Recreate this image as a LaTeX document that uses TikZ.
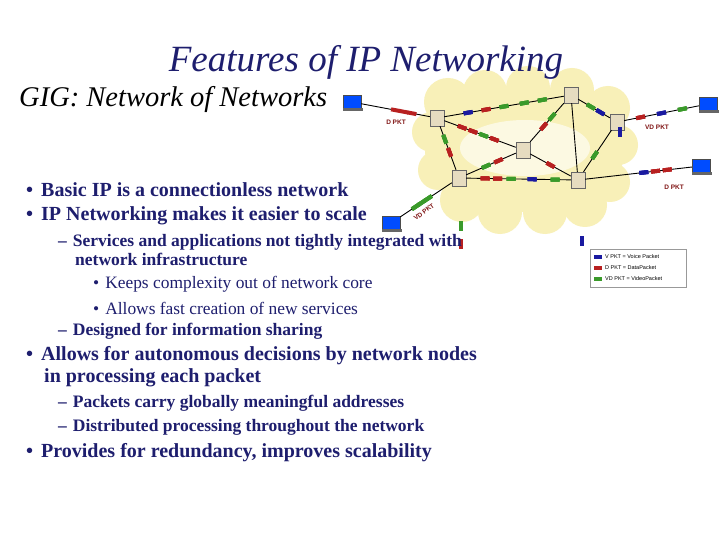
\documentclass[tikz,border=0pt]{standalone}
\usepackage{fontspec}
\setmainfont{Liberation Serif}
\newfontfamily\lsans{Liberation Sans}
\definecolor{navy}{HTML}{1E1E6E}
\definecolor{cloudc}{HTML}{F8F0B8}
\definecolor{pR}{HTML}{B82020}
\definecolor{pB}{HTML}{1A1AA0}
\definecolor{pG}{HTML}{3A9A2A}
\definecolor{rtr}{HTML}{E6DCC0}
\begin{document}
\begin{tikzpicture}[x=1pt,y=-1pt,
  txt/.style={anchor=west,inner sep=0,text=navy,font=\bfseries\fontsize{20}{22}\selectfont},
  sub/.style={anchor=west,inner sep=0,text=navy,font=\bfseries\fontsize{17.5}{19}\selectfont,align=left},
  subsub/.style={anchor=west,inner sep=0,text=navy,font=\fontsize{17.4}{19}\selectfont},
  router/.style={draw=black!60,fill=rtr,minimum width=14,minimum height=16,inner sep=0},
  pc/.style={draw=black!70,fill=blue!70!cyan,minimum width=18,minimum height=14,inner sep=0},
  link/.style={black,line width=0.9},
  lbl/.style={font=\lsans\bfseries\fontsize{6.5}{7}\selectfont,text=pR!70!black,inner sep=0}]
\useasboundingbox (0,0) rectangle (720,540);
\fill[white] (0,0) rectangle (720,540);
% cloud
\fill[cloudc] (525,150) ellipse (100 and 62);
\foreach \a/\b/\r in {448/102/24,485/92/22,528/88/22,572/90/22,608/108/22,618/145/20,610/182/20,585/205/22,545/212/22,500/212/22,462/200/22,438/170/20,432/132/20}
  \fill[cloudc] (\a,\b) circle (\r);
\fill[white,opacity=0.6] (525,148) ellipse (65 and 28);
% nodes
\node[router] (r1) at (437,118) {};
\node[router] (r2) at (571,95) {};
\node[router] (r3) at (617,122) {};
\node[router] (r4) at (523,150) {};
\node[router] (r5) at (459,178) {};
\node[router] (r6) at (578,180) {};
\node[pc] (c1) at (352,102) {};
\node[pc] (c2) at (708,104) {};
\node[pc] (c3) at (701,166) {};
\node[pc] (c4) at (391,223) {};
\foreach \c in {c1,c2,c3,c4} \fill[black!60] ([yshift=1]\c.south west) rectangle ++(20,3);
% links
\foreach \u/\v in {r1/r2,r1/r4,r1/r5,r2/r4,r2/r6,r2/r3,r3/r6,r4/r5,r4/r6,r5/r6,c1/r1,c2/r3,c3/r6,c4/r5}
  \draw[link] (\u) -- (\v);
% packets
\newcommand\pkt[4]{\path (#1) -- node[pos=#3,sloped,fill=#4,minimum width=9,minimum height=4,inner sep=0]{} (#2);}
\foreach \f in {0.5,0.62,0.74} \pkt{c1}{r1}{\f}{pR}
\pkt{r1}{r2}{0.2}{pB}\pkt{r1}{r2}{0.35}{pR}\pkt{r1}{r2}{0.5}{pG}\pkt{r1}{r2}{0.67}{pG}\pkt{r1}{r2}{0.82}{pG}
\pkt{r1}{r4}{0.25}{pR}\pkt{r1}{r4}{0.4}{pR}\pkt{r1}{r4}{0.55}{pG}\pkt{r1}{r4}{0.7}{pR}
\pkt{r1}{r5}{0.3}{pG}\pkt{r1}{r5}{0.6}{pR}
\pkt{r5}{r4}{0.4}{pG}\pkt{r5}{r4}{0.65}{pR}
\pkt{r4}{r2}{0.4}{pR}\pkt{r4}{r2}{0.65}{pG}
\pkt{r4}{r6}{0.5}{pR}
\pkt{r2}{r3}{0.4}{pG}\pkt{r2}{r3}{0.7}{pB}
\pkt{r3}{r6}{0.6}{pG}
\pkt{r5}{r6}{0.18}{pR}\pkt{r5}{r6}{0.3}{pR}\pkt{r5}{r6}{0.43}{pG}\pkt{r5}{r6}{0.63}{pB}\pkt{r5}{r6}{0.85}{pG}
\pkt{r3}{c2}{0.22}{pR}\pkt{r3}{c2}{0.5}{pB}\pkt{r3}{c2}{0.78}{pG}
\pkt{r6}{c3}{0.55}{pB}\pkt{r6}{c3}{0.66}{pR}\pkt{r6}{c3}{0.77}{pR}
\pkt{c4}{r5}{0.3}{pG}\pkt{c4}{r5}{0.42}{pG}\pkt{c4}{r5}{0.54}{pG}
\node[fill=pB,minimum width=3.5,minimum height=10,inner sep=0] (v1) at (620,132) {};
\node[fill=pG,minimum width=3.5,minimum height=10,inner sep=0] (g1) at (461,226) {};
\node[fill=pR,minimum width=3.5,minimum height=10,inner sep=0] (d1) at (461,244) {};
\node[fill=pB,minimum width=3.5,minimum height=10,inner sep=0] (v2) at (582,241) {};
\node[lbl] (l1) at (396,122) {D PKT};
\node[lbl] (l2) at (657,127) {VD PKT};
\node[lbl] (l3) at (674,187) {D PKT};
\node[lbl,rotate=37] (l4) at (424,212) {VD PKT};
% legend
\node[draw=black!40,fill=white,minimum width=96,minimum height=38,inner sep=0] (leg) at (638,268) {};
\foreach \y/\c/\t in {257/pB/{V PKT = Voice Packet},268/pR/{D PKT = DataPacket},279/pG/{VD PKT = VideoPacket}}{
  \fill[\c] (594,\y-2) rectangle (602,\y+2);
  \node[anchor=west,inner sep=0,font=\lsans\fontsize{5.5}{6}\selectfont] at (605,\y) {\t};}
% text
\node[text=navy,inner sep=0,font=\itshape\fontsize{37}{40}\selectfont] (title) at (366,62) {Features of IP Networking};
\node[anchor=west,inner sep=0,font=\itshape\fontsize{28.5}{30}\selectfont] (gig) at (19,100) {GIG: Network of Networks};
\node[txt] (b1) at (26,190) {•\hspace{8pt}Basic IP is a connectionless network};
\node[txt] (b2) at (26,216) {•\hspace{8pt}IP Networking makes it easier to scale};
\node[sub] (s1) at (58,250) {–\hspace{6pt}Services and applications not tightly integrated with\\\hspace{17pt}network infrastructure};
\node[subsub] (t1) at (93,284) {•\hspace{6pt}Keeps complexity out of network core};
\node[subsub] (t2) at (93,308) {•\hspace{6pt}Allows fast creation of new services};
\node[sub] (s2) at (58,331) {–\hspace{6pt}Designed for information sharing};
\node[txt,align=left,anchor=north west] (b3) at (26,346) {•\hspace{8pt}Allows for autonomous decisions by network nodes\\\hspace{18pt}in processing each packet};
\node[sub] (s3) at (58,403) {–\hspace{6pt}Packets carry globally meaningful addresses};
\node[sub] (s4) at (58,427) {–\hspace{6pt}Distributed processing throughout the network};
\node[txt] (b4) at (26,453) {•\hspace{8pt}Provides for redundancy, improves scalability};
\end{tikzpicture}
\end{document}
